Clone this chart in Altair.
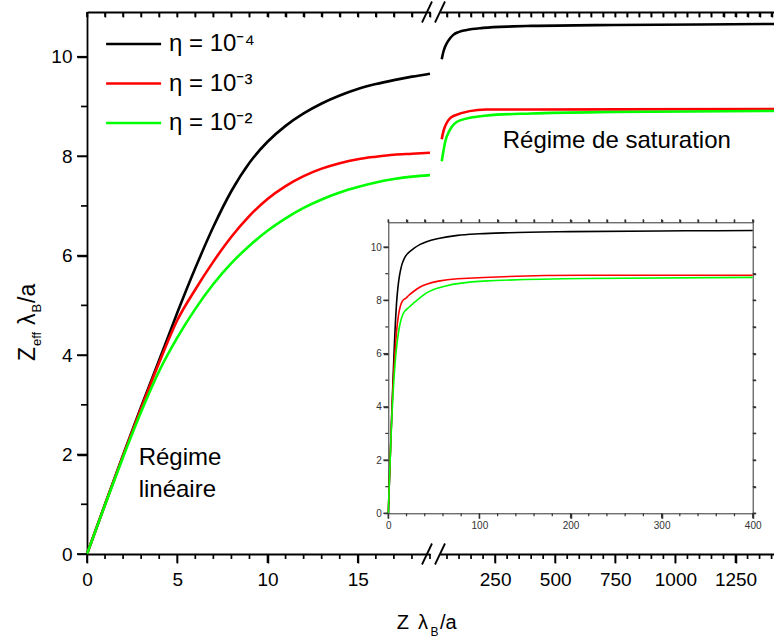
import altair as alt
import pandas as pd

# ---------------- data ----------------
SERIES = ["η = 10⁻⁴", "η = 10⁻³", "η = 10⁻²"]
COLORS = ["#000000", "#ff0000", "#00ff00"]

BLACK_X = [0, 1, 2, 3, 4, 5, 6, 7, 8, 9, 10, 11, 12, 13, 14, 15, 16, 17, 18, 19,
           22, 28, 35, 42, 55, 76, 100, 132, 200, 326, 400, 743, 1100, 1412]
BLACK_Y = [0, 1.0, 1.99, 2.96, 3.9, 4.85, 5.75, 6.58, 7.3, 7.87, 8.29, 8.61, 8.86, 9.06, 9.22,
           9.35, 9.45, 9.53, 9.6, 9.66, 9.78, 9.95, 10.1, 10.2, 10.32, 10.44, 10.5, 10.54,
           10.58, 10.61, 10.62, 10.64, 10.65, 10.66]

RED_X = [0, 1, 2, 3, 4, 5, 6, 7, 8, 9, 10, 11, 12, 13, 14, 15, 16, 17, 18, 19,
         22, 28, 35, 42, 55, 76, 212, 400, 1412]
RED_Y = [0, 1.0, 1.98, 2.93, 3.85, 4.7, 5.32, 5.88, 6.38, 6.8, 7.14, 7.4, 7.6, 7.75, 7.86,
         7.94, 7.99, 8.03, 8.05, 8.07, 8.17, 8.34, 8.5, 8.6, 8.72, 8.81, 8.94, 8.94, 8.95]

GREEN_X = [0, 1, 2, 3, 4, 5, 6, 7, 8, 9, 10, 11, 12, 13, 14, 15, 16, 17, 18, 19,
           22, 28, 35, 42, 62, 104, 215, 400, 743, 1412]
GREEN_Y = [0, 0.99, 1.95, 2.86, 3.68, 4.35, 4.93, 5.43, 5.85, 6.2, 6.5, 6.75, 6.96, 7.13,
           7.27, 7.38, 7.47, 7.54, 7.59, 7.62, 7.72, 7.9, 8.1, 8.28, 8.53, 8.72, 8.82, 8.86,
           8.89, 8.91]

LEFT_MAJOR = [0, 5, 10, 15]
LEFT_ALL = list(range(0, 20))
RIGHT_MAJOR = [250, 500, 750, 1000, 1250]
RIGHT_ALL = list(range(50, 1401, 50))
Y_MAJOR = [0, 2, 4, 6, 8, 10]
Y_ALL = list(range(0, 11))
INSET_X_MAJOR = [0, 100, 200, 300, 400]
INSET_X_ALL = list(range(0, 401, 20))

X_TITLE = ["Z", "λ", "B", "/a"]
Y_TITLE = ["Z", "eff", "λ", "B", "/a"]
ANNOT_LIN = ["Régime", "linéaire"]
ANNOT_SAT = "Régime de saturation"

rows = []
for name, xs, ys in zip(SERIES, [BLACK_X, RED_X, GREEN_X], [BLACK_Y, RED_Y, GREEN_Y]):
    for xv, yv in zip(xs, ys):
        rows.append({"x": xv, "y": yv, "series": name})
df = pd.DataFrame(rows)
dummy = pd.DataFrame({"_": [0]})

# ---------------- layout ----------------
W, H = 687, 542
FONT = "Liberation Sans"

# domains and pixel ranges of the scales
XL_DOM, XL_RNG = [0, 19], [0, 343]
XR_DOM, XR_RNG = [20, 1410], [352.8, 687]
YM_DOM = [0, 10.9]
IX0, IX1, IY0, IY1 = 301.3, 665.7, 501.3, 210.3
XI_DOM, YI_DOM = [0, 400], [0, 10.93]

PX_YM = H / (YM_DOM[1] - YM_DOM[0])                       # px per unit, main y
PX_XL = (XL_RNG[1] - XL_RNG[0]) / (XL_DOM[1] - XL_DOM[0])  # px per unit, left x
PX_XI = (IX1 - IX0) / (XI_DOM[1] - XI_DOM[0])
PX_YI = (IY0 - IY1) / (YI_DOM[1] - YI_DOM[0])


def minor(all_vals, major_vals):
    return [v for v in all_vals if v not in major_vals]


def axis(orient, values, size, labels=True, domain=True, offset=0, color="black",
         dwidth=1.8, lsize=19, lpad=6, fmt=None):
    kw = dict(orient=orient, values=values, title=None, grid=False, offset=offset,
              domain=domain, domainColor=color, domainWidth=dwidth,
              ticks=True, tickSize=size, tickColor=color, tickWidth=1.5)
    if labels:
        kw.update(labelFont=FONT, labelFontSize=lsize, labelColor=color, labelPadding=lpad,
                  labelOverlap=False, labelFlush=False)
        if fmt:
            kw.update(format=fmt)
    else:
        kw.update(labels=False)
    return alt.Axis(**kw)


def tick_frame(vals):
    return pd.DataFrame({"v": [v for v in vals for _ in (0, 1)], "p": [0, 1] * len(vals)})


def hticks(vals, xscale, yscale, y_from, y_to, color="black", width=1.7):
    """ticks along a horizontal axis: short 2-point lines at each tick value"""
    return alt.Chart(tick_frame(vals)).transform_calculate(
        t=f"datum.p == 0 ? {y_from} : {y_to}").mark_line(
        color=color, strokeWidth=width, strokeCap="butt").encode(
        x=alt.X("v:Q", scale=xscale, axis=None),
        y=alt.Y("t:Q", scale=yscale, axis=None),
        detail="v:N")


def vticks(vals, xscale, yscale, x_from, x_to, color="black", width=1.7):
    """ticks along a vertical axis: short 2-point lines at each tick value"""
    return alt.Chart(tick_frame(vals)).transform_calculate(
        t=f"datum.p == 0 ? {x_from} : {x_to}").mark_line(
        color=color, strokeWidth=width, strokeCap="butt").encode(
        x=alt.X("t:Q", scale=xscale, axis=None),
        y=alt.Y("v:Q", scale=yscale, axis=None),
        detail="v:N", order="p:Q")


color = alt.Color(
    "series:N",
    scale=alt.Scale(domain=SERIES, range=COLORS),
    legend=alt.Legend(orient="none", legendX=34.6, legendY=20, title=None,
                      labelFont=FONT, labelFontSize=24, labelColor="black",
                      symbolType="M-3,0H3", symbolSize=336, symbolStrokeWidth=2.6,
                      labelOffset=23.4, rowPadding=15.5, padding=0, labelLimit=400),
)

# ---- left (linear) segment ----
xl = alt.Scale(domain=XL_DOM, range=XL_RNG, nice=False, zero=False)
ym = alt.Scale(domain=YM_DOM, nice=False, zero=False)

left_lines = alt.Chart(df).transform_filter("datum.x <= 19").mark_line(
    strokeWidth=2.6, interpolate="monotone").encode(
    x=alt.X("x:Q", scale=xl, axis=axis("bottom", LEFT_MAJOR, 9, lpad=7)),
    y=alt.Y("y:Q", scale=ym, axis=axis("left", Y_MAJOR, 10, lpad=5)),
    color=color,
)
left_top = alt.Chart(df).transform_filter("datum.x <= 19").mark_line(opacity=0).encode(
    x=alt.X("x:Q", scale=xl, axis=axis("bottom", LEFT_ALL, 5, labels=False, offset=-H)),
    y=alt.Y("y:Q", scale=ym, axis=None),
)
lin_a = alt.Chart(dummy).mark_text(font=FONT, fontSize=24, align="left", baseline="alphabetic",
                                   color="black").encode(
    x=alt.XDatum(2.86, scale=xl, axis=None), y=alt.YDatum(1.79, scale=ym, axis=None),
    text=alt.value(ANNOT_LIN[0]))
lin_b = alt.Chart(dummy).mark_text(font=FONT, fontSize=24, align="left", baseline="alphabetic",
                                   color="black").encode(
    x=alt.XDatum(2.86, scale=xl, axis=None), y=alt.YDatum(1.155, scale=ym, axis=None),
    text=alt.value(ANNOT_LIN[1]))
ytop = YM_DOM[1]
left_ticks = [
    hticks(LEFT_MAJOR, xl, ym, 0, -9 / PX_YM),
    hticks(minor(LEFT_ALL, LEFT_MAJOR), xl, ym, 0, -5 / PX_YM),
    hticks(LEFT_ALL, xl, ym, ytop, ytop - 5 / PX_YM),
    vticks(Y_MAJOR, xl, ym, 0, -10 / PX_XL),
    vticks(minor(Y_ALL, Y_MAJOR), xl, ym, 0, -6 / PX_XL),
]
left_panel = alt.layer(left_lines, left_top, lin_a, lin_b, *left_ticks).resolve_axis(
    x="independent", y="independent")

# ---- right (saturation) segment ----
xr = alt.Scale(domain=XR_DOM, range=XR_RNG, nice=False, zero=False)
right_lines = alt.Chart(df).transform_filter("datum.x >= 25").mark_line(
    strokeWidth=2.6, interpolate="monotone").encode(
    x=alt.X("x:Q", scale=xr, axis=axis("bottom", RIGHT_MAJOR, 9, lpad=7, fmt="d")),
    y=alt.Y("y:Q", scale=ym, axis=None),
    color=color,
)
right_top = alt.Chart(df).transform_filter("datum.x >= 25").mark_line(opacity=0).encode(
    x=alt.X("x:Q", scale=xr, axis=axis("bottom", RIGHT_ALL, 5, labels=False, offset=-H)),
    y=alt.Y("y:Q", scale=ym, axis=None),
)
sat = alt.Chart(dummy).mark_text(font=FONT, fontSize=24, align="left", baseline="alphabetic",
                                 color="black").encode(
    x=alt.XDatum(281.6, scale=xr, axis=None), y=alt.YDatum(8.16, scale=ym, axis=None),
    text=alt.value(ANNOT_SAT))
right_ticks = [
    hticks(RIGHT_MAJOR, xr, ym, 0, -9 / PX_YM),
    hticks(minor(RIGHT_ALL, RIGHT_MAJOR), xr, ym, 0, -5 / PX_YM),
    hticks(RIGHT_ALL, xr, ym, ytop, ytop - 5 / PX_YM),
]
right_panel = alt.layer(right_lines, right_top, sat, *right_ticks).resolve_axis(
    x="independent", y="independent")

# ---- inset ----
xi = alt.Scale(domain=XI_DOM, range=[IX0, IX1], nice=False, zero=False)
yi = alt.Scale(domain=YI_DOM, range=[IY0, IY1], nice=False, zero=False)
IC = "#333333"
ik = dict(color=IC, dwidth=1, lsize=10, lpad=2)
inset_lines = alt.Chart(df).transform_filter("datum.x <= 400").mark_line(
    strokeWidth=1.6, interpolate="monotone").encode(
    x=alt.X("x:Q", scale=xi, axis=axis("bottom", INSET_X_MAJOR, 5, offset=IY0 - H, **ik)),
    y=alt.Y("y:Q", scale=yi, axis=axis("left", Y_MAJOR, 5, offset=-IX0, **ik)),
    color=color,
)
inset_frame = alt.Chart(df).transform_filter("datum.x <= 400").mark_line(opacity=0).encode(
    x=alt.X("x:Q", scale=xi, axis=axis("top", INSET_X_ALL, 3, labels=False, offset=-IY1, **ik)),
    y=alt.Y("y:Q", scale=yi, axis=axis("right", Y_ALL, 3, labels=False, offset=IX1 - W, **ik)),
)
iy_top, ix_right = YI_DOM[1], XI_DOM[1]
inset_ticks = [
    hticks(INSET_X_MAJOR, xi, yi, 0, -5 / PX_YI, IC, 1.2),
    hticks(minor(INSET_X_ALL, INSET_X_MAJOR), xi, yi, 0, -3 / PX_YI, IC, 1.2),
    hticks(INSET_X_ALL, xi, yi, iy_top, iy_top + 3 / PX_YI, IC, 1.2),
    vticks(Y_MAJOR, xi, yi, 0, -5 / PX_XI, IC, 1.2),
    vticks(minor(Y_ALL, Y_MAJOR), xi, yi, 0, -3 / PX_XI, IC, 1.2),
    vticks(Y_ALL, xi, yi, ix_right, ix_right + 3 / PX_XI, IC, 1.2),
]
inset_panel = alt.layer(inset_lines, inset_frame, *inset_ticks).resolve_axis(
    x="independent", y="independent")

# ---- axis break marks ----
def slash(x1, x2, ybase):
    return alt.Chart(dummy).mark_rule(color="black", strokeWidth=1.8).encode(
        x=alt.value(x1), x2=alt.value(x2), y=alt.value(ybase + 10.5), y2=alt.value(ybase - 10.5))

breaks = [slash(335, 345, 0), slash(348, 358, 0), slash(335, 345, H), slash(348, 358, H)]

# ---- axis titles (with subscripts) ----
def piece(txt, x, y, size, angle=0):
    return alt.Chart(dummy).mark_text(font=FONT, fontSize=size, align="left", baseline="alphabetic",
                                      angle=angle, color="black").encode(
        x=alt.value(x), y=alt.value(y), text=alt.value(txt))

xt = [piece(X_TITLE[0], 309.7, 617, 20), piece(X_TITLE[1], 331, 617, 20),
      piece(X_TITLE[2], 343.5, 623.5, 12), piece(X_TITLE[3], 353, 617, 20)]
yt = [piece(Y_TITLE[0], -52, 349, 23, 270), piece(Y_TITLE[1], -46, 334, 13, 270),
      piece(Y_TITLE[2], -52, 313, 23, 270), piece(Y_TITLE[3], -46, 300.5, 13, 270),
      piece(Y_TITLE[4], -52, 291, 23, 270)]

chart = alt.layer(left_panel, right_panel, inset_panel, *breaks, *xt, *yt).resolve_scale(
    x="independent", y="independent").resolve_axis(x="independent", y="independent").properties(
    width=W, height=H,
    padding={"left": 87, "top": 12, "right": 0, "bottom": 86},
    autosize=alt.AutoSizeParams(type="none"),
    background="white",
).configure_view(stroke=None)

chart.save("out.html", embed_options={"renderer": "svg", "actions": False})
